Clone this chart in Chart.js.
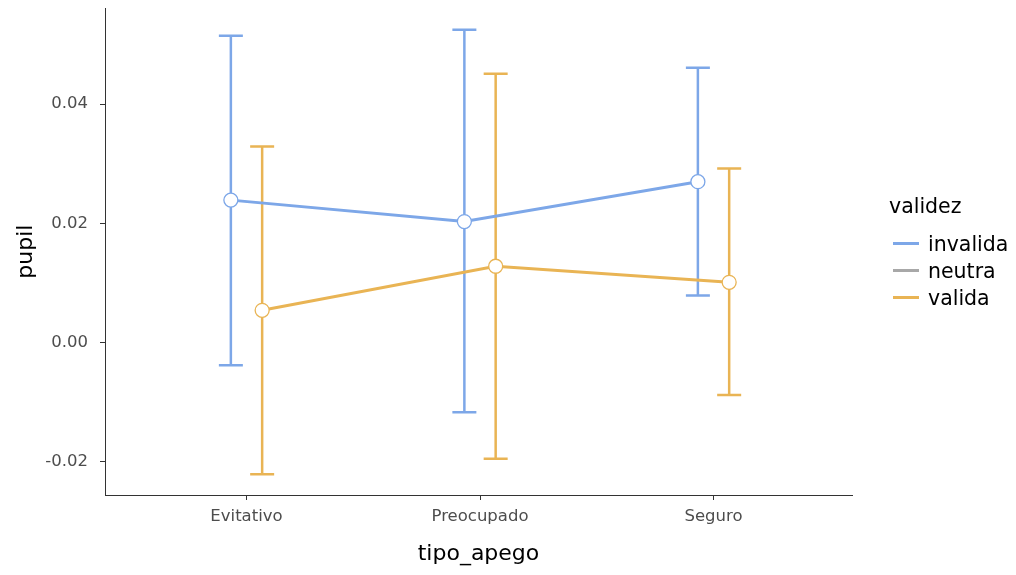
<!DOCTYPE html>
<html lang="es">
<head>
<meta charset="UTF-8">
<script src="https://cdn.jsdelivr.net/npm/chart.js"></script>
<style>
  body { margin: 0; background: #fff; font-family: "DejaVu Sans", sans-serif; }
  #wrap { position: relative; width: 1016px; height: 575px; }
  #legend { position: absolute; left: 889px; top: 194px; color: #000; }
  #legend .title { font-size: 20.5px; height: 28px; margin-bottom: 8px; }
  #legend .item { font-size: 20.5px; height: 27px; display: flex; align-items: center; }
  #legend .swatch { width: 26px; height: 3px; margin: 0 9px 0 4px; }
</style>
</head>
<body>
<div id="wrap">
  <canvas id="myChart"></canvas>
  <div id="legend"></div>
</div>
<script>
// data
const categories = ['Evitativo', 'Preocupado', 'Seguro']
const groups = ['invalida', 'neutra', 'valida']
const colors = ['#7da7e8', '#a8a8a8', '#e9b454']
const invalidaMean = [0.0239, 0.0203, 0.0270]
const invalidaLow = [-0.0038, -0.0117, 0.0079]
const invalidaHigh = [0.0515, 0.0525, 0.0461]
const neutraMean = []
const validaMean = [0.0054, 0.0128, 0.0101]
const validaLow = [-0.0221, -0.0195, -0.0088]
const validaHigh = [0.0329, 0.0451, 0.0292]
const yTicks = [-0.02, 0, 0.02, 0.04]

const dodge = [-0.067, 0, 0.067]
const means = [invalidaMean, neutraMean, validaMean]
const lows = [invalidaLow, [], validaLow]
const highs = [invalidaHigh, [], validaHigh]

function makePoints(vals, g) {
  return vals.map((v, i) => ({ x: i + 1 + dodge[g], y: v }))
}

const datasets = groups.map((name, g) => ({
  label: name,
  data: makePoints(means[g], g),
  low: lows[g],
  high: highs[g],
  showLine: true,
  borderColor: colors[g],
  borderWidth: 3,
  pointRadius: 7,
  pointHoverRadius: 7,
  pointBackgroundColor: '#fff',
  pointBorderColor: colors[g],
  pointBorderWidth: 1.3
}))

// error bars drawn under the lines and points
const errorBars = {
  id: 'errorBars',
  beforeDatasetsDraw(chart) {
    const ctx = chart.ctx
    const xs = chart.scales.x, ys = chart.scales.y
    chart.data.datasets.forEach((ds) => {
      ds.data.forEach((p, i) => {
        const x = xs.getPixelForValue(p.x)
        const yl = ys.getPixelForValue(ds.low[i])
        const yh = ys.getPixelForValue(ds.high[i])
        ctx.save()
        ctx.strokeStyle = ds.borderColor
        ctx.lineWidth = 2.5
        ctx.beginPath()
        ctx.moveTo(x, yl); ctx.lineTo(x, yh)
        ctx.moveTo(x - 12, yl); ctx.lineTo(x + 12, yl)
        ctx.moveTo(x - 12, yh); ctx.lineTo(x + 12, yh)
        ctx.stroke()
        ctx.restore()
      })
    })
  }
}

const tickFont = { family: 'DejaVu Sans', size: 16.5 }
const titleFont = { family: 'DejaVu Sans', size: 22 }

new Chart(document.getElementById('myChart'), {
  type: 'scatter',
  data: { datasets: datasets },
  plugins: [errorBars],
  options: {
    responsive: true,
    maintainAspectRatio: false,
    animation: false,
    layout: { padding: { left: 0, right: 164, top: 8, bottom: 0 } },
    plugins: { legend: { display: false }, tooltip: { enabled: false } },
    scales: {
      x: {
        type: 'linear',
        min: 0.394,
        max: 3.593,
        afterFit(scale) {
          scale.height = 80
          scale.paddingLeft = 0
          scale.paddingRight = 0
        },
        afterBuildTicks(scale) { scale.ticks = categories.map((c, i) => ({ value: i + 1 })) },
        ticks: {
          callback: (v) => categories[v - 1],
          color: '#4d4d4d',
          font: tickFont,
          padding: 7,
          maxRotation: 0
        },
        grid: { drawOnChartArea: false, drawTicks: true, tickLength: 5, tickColor: '#333', tickWidth: 1 },
        border: { display: true, color: '#333', width: 1 },
        title: { display: true, text: 'tipo_apego', color: '#000', font: titleFont, padding: { top: 0, bottom: 8 } }
      },
      y: {
        min: -0.0256,
        max: 0.0561,
        afterFit(scale) {
          scale.width = 105
          scale.paddingTop = 0
          scale.paddingBottom = 0
        },
        afterBuildTicks(scale) { scale.ticks = yTicks.map((v) => ({ value: v })) },
        ticks: {
          callback: (v) => v.toFixed(2),
          color: '#4d4d4d',
          font: tickFont,
          padding: 12
        },
        grid: { drawOnChartArea: false, drawTicks: true, tickLength: 5, tickColor: '#333', tickWidth: 1 },
        border: { display: true, color: '#333', width: 1 },
        title: { display: true, text: 'pupil', color: '#000', font: titleFont, padding: { top: 13, bottom: 0 } }
      }
    }
  }
})

// legend
const legend = document.getElementById('legend')
legend.innerHTML = '<div class="title">validez</div>' + groups.map((g, i) =>
  '<div class="item"><span class="swatch" style="background:' + colors[i] + '"></span>' + g + '</div>'
).join('')
</script>
</body>
</html>
